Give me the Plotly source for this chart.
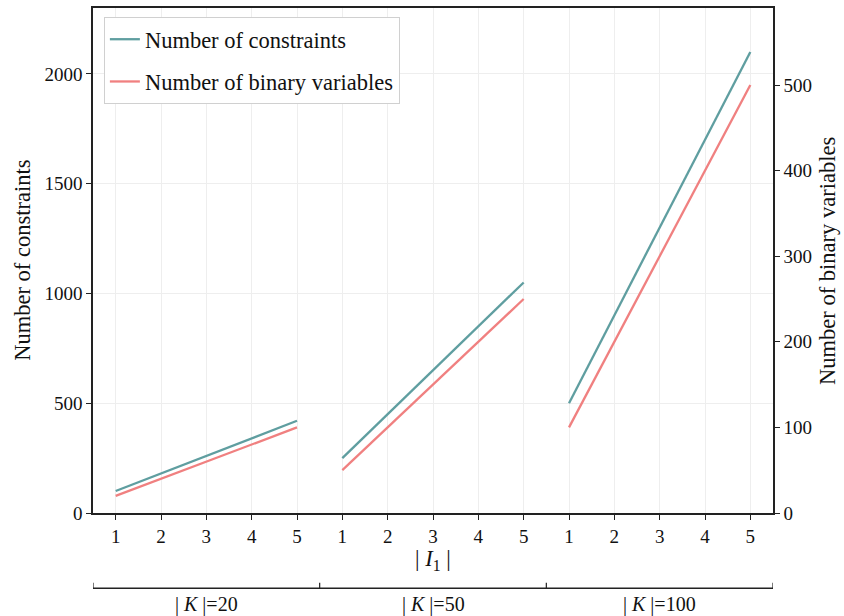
import plotly.graph_objects as go

# |I1| values within each |K| group, and the |K| group sizes
i1_values = [1, 2, 3, 4, 5]
k_groups = [20, 50, 100]
group_labels = ["| <i>K</i> |=20", "| <i>K</i> |=50", "| <i>K</i> |=100"]

# model size per group (one list per |K|)
constraints = [
    [100, 180, 260, 340, 420],
    [250, 450, 650, 850, 1050],
    [500, 900, 1300, 1700, 2100],
]
binary_vars = [
    [20, 40, 60, 80, 100],
    [50, 100, 150, 200, 250],
    [100, 200, 300, 400, 500],
]

TEAL = "#5F9EA0"
CORAL = "#F08080"
FONT = "Liberation Serif"
FS = 22.5     # labels and legend
TFS = 19      # tick labels
AXC = "#222222"

n = len(i1_values)
fig = go.Figure()

for g in range(len(k_groups)):
    xs = [g * n + j for j in range(n)]
    fig.add_trace(go.Scatter(
        x=xs, y=constraints[g], mode="lines",
        line=dict(color=TEAL, width=2.3),
        name="Number of constraints", legendgroup="c", showlegend=(g == 0),
        yaxis="y"))
    fig.add_trace(go.Scatter(
        x=xs, y=binary_vars[g], mode="lines",
        line=dict(color=CORAL, width=2.3),
        name="Number of binary variables", legendgroup="b", showlegend=(g == 0),
        yaxis="y2"))

tickvals = [g * n + j for g in range(len(k_groups)) for j in range(n)]
ticktext = [str(v) for _ in k_groups for v in i1_values]

fig.update_layout(
    width=844, height=616,
    margin=dict(l=93, r=71, t=6, b=103),
    paper_bgcolor="white", plot_bgcolor="white",
    font=dict(family=FONT, size=FS, color="#111111"),
    xaxis=dict(
        range=[-0.5, len(k_groups) * n - 0.5],
        tickvals=tickvals, ticktext=ticktext,
        ticks="outside", ticklen=5, tickwidth=1.2, tickcolor=AXC,
        showline=True, linecolor=AXC, linewidth=1.5, mirror=True,
        showgrid=True, gridcolor="#eeeeee", gridwidth=1,
        zeroline=False, tickfont=dict(size=TFS),
    ),
    yaxis=dict(
        range=[0, 2300], tickvals=[0, 500, 1000, 1500, 2000],
        ticks="outside", ticklen=5, tickwidth=1.2, tickcolor=AXC,
        showline=True, linecolor=AXC, linewidth=1.5,
        showgrid=True, gridcolor="#eeeeee", gridwidth=1,
        zeroline=False, tickfont=dict(size=TFS),
    ),
    yaxis2=dict(
        range=[0, 590], tickvals=[0, 100, 200, 300, 400, 500],
        overlaying="y", side="right",
        ticks="outside", ticklen=5, tickwidth=1.2, tickcolor=AXC,
        showline=True, linecolor=AXC, linewidth=1.5,
        showgrid=False, zeroline=False, tickfont=dict(size=TFS),
    ),
    legend=dict(
        x=0.016, y=0.982, xanchor="left", yanchor="top",
        bgcolor="white", bordercolor="#d0d0d0", borderwidth=1,
        font=dict(size=FS, family=FONT),
    ),
    showlegend=True,
)

annotations = [
    dict(text="| <i>I</i><sub>1</sub> |", xref="paper", yref="paper",
         x=0.5, y=-0.093, xanchor="center", yanchor="middle",
         showarrow=False, font=dict(size=FS)),
    dict(text="Number of constraints", xref="paper", yref="paper",
         x=-0.104, y=0.5, xanchor="center", yanchor="middle",
         textangle=-90, showarrow=False, font=dict(size=FS)),
    dict(text="Number of binary variables", xref="paper", yref="paper",
         x=1.080, y=0.5, xanchor="center", yanchor="middle",
         textangle=-90, showarrow=False, font=dict(size=FS)),
]

# group brackets under the axis
bracket_y = -0.149
tick_top = -0.138
bounds = [g * n - 0.5 for g in range(len(k_groups) + 1)]
shapes = [dict(type="line", xref="x", yref="paper",
               x0=bounds[0], x1=bounds[-1], y0=bracket_y, y1=bracket_y,
               line=dict(color=AXC, width=1.5))]
for b in bounds:
    shapes.append(dict(type="line", xref="x", yref="paper",
                       x0=b, x1=b, y0=bracket_y, y1=tick_top,
                       line=dict(color=AXC, width=1.2)))
for g, lab in enumerate(group_labels):
    annotations.append(dict(
        text=lab, xref="x", yref="paper",
        x=(bounds[g] + bounds[g + 1]) / 2, y=-0.182,
        xanchor="center", yanchor="middle", showarrow=False,
        font=dict(size=20)))

fig.update_layout(annotations=annotations, shapes=shapes)
fig.write_html("out.html")
